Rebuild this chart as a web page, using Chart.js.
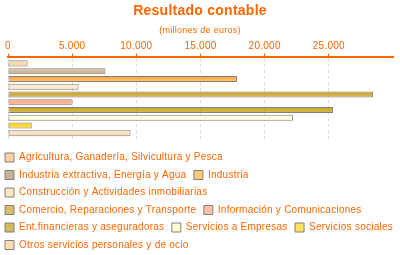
<!DOCTYPE html>
<html>
<head>
<meta charset="utf-8">
<script src="https://cdn.jsdelivr.net/npm/chart.js@4"></script>
<style>
  html, body { margin: 0; padding: 0; background: #fff; }
  #wrap { width: 400px; height: 255px; }
</style>
</head>
<body>
<div id="wrap"><canvas id="myChart" width="400" height="255"></canvas></div>
<script>
// datos (millones de euros)
var sectores = [
  "Agricultura, Ganadería, Silvicultura y Pesca",
  "Industria extractiva, Energía y Agua",
  "Industria",
  "Construcción y Actividades inmobiliarias",
  "Comercio, Reparaciones y Transporte",
  "Información y Comunicaciones",
  "Ent.financieras y aseguradoras",
  "Servicios a Empresas",
  "Servicios sociales",
  "Otros servicios personales y de ocio"
];
var valores = [1530, 7600, 17850, 5500, 28450, 5030, 25330, 22200, 1850, 9550];
var ticksX = [0, 5000, 10000, 15000, 20000, 25000];
var ejeMax = 30000;

// colores: [arriba, abajo] del degradado
var colores = [
  ["#ffe3c6", "#ffcf9c"],
  ["#d6c3a8", "#c8b493"],
  ["#ff9e2e", "#ffc97a"],
  ["#fff0dc", "#ffe4c4"],
  ["#c8a024", "#d8bc66"],
  ["#ff9f80", "#ffc2a8"],
  ["#c8a418", "#d4bc5c"],
  ["#ffffe4", "#ffffd0"],
  ["#ffd000", "#ffe05a"],
  ["#ffe8cc", "#ffdcb4"]
];
var naranja = "#ff6600";
var anchoLeyenda = 414; // ancho usado para cortar las filas de la leyenda

var datasets = [];
for (var i = 0; i < sectores.length; i++) {
  datasets.push({
    label: sectores[i],
    data: [valores[i]],
    backgroundColor: colores[i][1],
    borderColor: "#808080",
    borderWidth: 1,
    borderSkipped: false,
    barPercentage: 0.78,
    categoryPercentage: 0.93
  });
}

// espaciado de letras y ajustes de la leyenda
var espaciado = {
  id: "espaciado",
  afterInit: function(chart) {
    var lg = chart.legend;
    var fit0 = lg.fit;
    lg.fit = function() {
      this.maxWidth = anchoLeyenda;
      fit0.call(this);
      this.width = 400;
    };
  },
  beforeUpdate: function(chart) { chart.ctx.letterSpacing = "0.25px"; },
  beforeRender: function(chart) { chart.ctx.letterSpacing = "0.25px"; },
  afterLayout: function(chart) {
    // mover la leyenda un poco a la izquierda y abajo
    var lg = chart.legend;
    lg.left -= 2.5;
    lg.right = lg.left + anchoLeyenda;
    lg.top += 5; lg.bottom += 5;
  }
};

// degradado vertical en cada barra
var degradado = {
  id: "degradado",
  beforeDatasetsDraw: function(chart) {
    var ctx = chart.ctx;
    chart.data.datasets.forEach(function(ds, i) {
      var meta = chart.getDatasetMeta(i);
      meta.data.forEach(function(bar) {
        var g = ctx.createLinearGradient(0, bar.y - bar.height / 2, 0, bar.y + bar.height / 2);
        g.addColorStop(0, colores[i][0]);
        g.addColorStop(1, colores[i][1]);
        bar.options.backgroundColor = g;
      });
    });
  }
};

// eje vacio, solo para dejar margen
function ejeVacio(pos, ancho) {
  return {
    type: "linear",
    position: pos,
    display: true,
    grid: { display: false },
    border: { display: false },
    ticks: { display: false },
    afterFit: function(axis) { axis.width = ancho; }
  };
}

var ctx = document.getElementById("myChart").getContext("2d");
var myChart = new Chart(ctx, {
  type: "bar",
  data: { labels: [""], datasets: datasets },
  plugins: [espaciado, degradado],
  options: {
    indexAxis: "y",
    responsive: false,
    animation: false,
    devicePixelRatio: 1,
    layout: { padding: 0 },
    scales: {
      x: {
        position: "top",
        min: 0,
        max: ejeMax,
        afterBuildTicks: function(axis) {
          axis.ticks = ticksX.map(function(v) { return { value: v }; });
        },
        border: { color: naranja, width: 2, dash: [3, 3] },
        grid: { color: "#dddddd", tickColor: naranja, tickLength: 3, tickBorderDash: [], drawOnChartArea: true },
        ticks: {
          color: naranja,
          font: { family: "Liberation Sans, Arial", size: 10 },
          padding: 1,
          maxRotation: 0,
          callback: function(v) { return v.toLocaleString("de-DE"); }
        }
      },
      y: {
        display: true,
        grid: { display: false },
        border: { display: false },
        ticks: { display: false },
        afterFit: function(axis) { axis.width = 8; }
      },
      derecha: ejeVacio("right", 7)
    },
    plugins: {
      title: {
        display: true,
        text: "Resultado contable",
        color: naranja,
        font: { family: "Liberation Sans, Arial", size: 14, weight: "bold" },
        padding: { top: 3, bottom: 5 }
      },
      subtitle: {
        display: true,
        text: "(millones de euros)",
        color: naranja,
        font: { family: "Liberation Sans, Arial", size: 9 },
        padding: { top: 0, bottom: 4 }
      },
      legend: {
        position: "bottom",
        align: "start",
        labels: {
          color: naranja,
          boxWidth: 9,
          boxHeight: 9,
          padding: 7.5,
          font: { family: "Liberation Sans, Arial", size: 10 }
        }
      },
      tooltip: { enabled: false }
    }
  }
});
</script>
</body>
</html>
